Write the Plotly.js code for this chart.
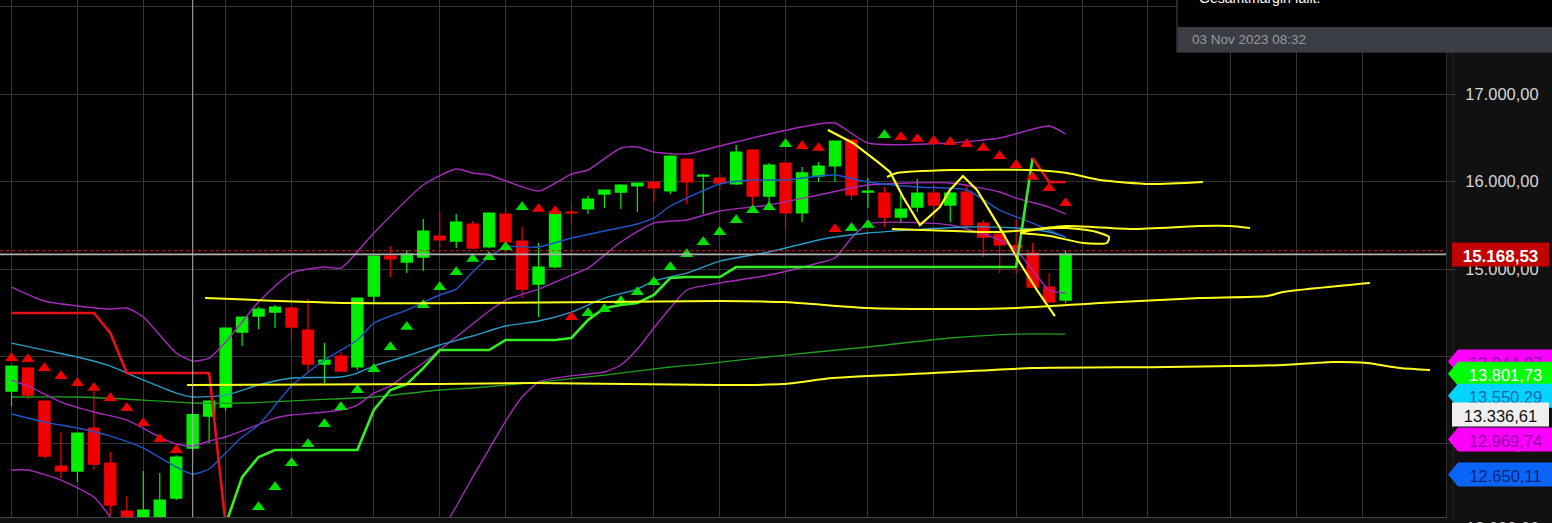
<!DOCTYPE html>
<html>
<head>
<meta charset="utf-8">
<script src="https://cdn.plot.ly/plotly-3.0.1.min.js"></script>
<style>
html,body{margin:0;padding:0;background:#111111;overflow:hidden;}
#chart{width:1552px;height:523px;}
</style>
</head>
<body>
<div id="chart"></div>
<script>
// ---------- candle data (weekly bars, index = bar number) ----------
const barIndex = [0,1,2,3,4,5,6,7,8,9,10,11,12,13,14,15,16,17,18,19,20,21,22,23,24,25,26,27,28,29,30,31,32,33,34,35,36,37,38,39,40,41,42,43,44,45,46,47,48,49,50,51,52,53,54,55,56,57,58,59,60,61,62,63,64];
const openP  = [13605,13868,13491,12747,12690,13182,12781,12232,12120,12120,12381,12953,13319,13422,14280,14463,14509,14555,14303,13914,14006,13880,14692,15150,15081,15138,15379,15321,15516,15253,15630,15321,14829,15024,15653,15688,15859,15882,15951,15997,15894,16260,16065,16042,15974,16363,15836,16214,15642,16065,16180,16477,15882,15871,15596,15710,15871,15733,15882,15527,15402,15270,15184,14795,14646];
const highP  = [13900,13880,13500,13136,13130,13674,12907,12404,12690,12667,12870,13345,13500,14330,14460,14566,14589,14560,14658,14154,14051,14675,15155,15264,15218,15573,15653,15630,15550,15650,15699,15482,15299,15676,15745,15836,15910,15970,15990,16000,16300,16265,16090,16100,16420,16370,16214,16220,16168,16225,16470,16480,16042,15939,15882,16031,15962,15880,15962,15562,15505,15562,15299,14955,15218];
const lowP   = [13434,13514,12839,12610,12564,12701,12186,12100,12100,12100,12358,12930,13010,13376,14120,14315,14326,14189,13823,13697,13825,13845,14612,14910,14955,14978,15241,15241,15230,15240,15276,14669,14452,15010,15505,15630,15699,15688,15653,15768,15859,15745,15630,15905,15962,15722,15756,15470,15539,15997,15997,15791,15699,15482,15527,15653,15585,15539,15470,15138,14955,14955,14790,14612,14612];
const closeP = [13891,13559,12861,12690,13125,12770,12301,12120,12244,12358,12850,13336.61,13491,14326,14452,14543,14566,14337,13914,13960,13834,14669,15150,15116,15173,15436,15333,15539,15241,15642,15310,14772,15024,15653,15642,15802,15905,15962,15985,15928,16294,15997,16077,15985,16340,15836,16191,15642,16100,16180,16466,15848,15894,15596,15688,15871,15733,15871,15505,15367,15276,15240,14795,14624,15173];

// ---------- Bollinger bands ----------
const bbUpperX = [0,2,4,6,7,8,9,10,11,12,13,14,15,17,19,20,22,25,27,28,29,32,34,35,37,38,39,41,43,46,49,50,52,57,60,63,64];
const bbUpperY = [14795,14635,14578,14543,14555,14452,14246,14040,13948,13983,14166,14395,14623,14955,15024,15012,15413,15962,16145,16100,16077,15894,16088,16134,16386,16397,16340,16317,16408,16546,16660,16672,16443,16443,16500,16637,16546];
const bbMidX = [0,1,3,5,7,9,10,11,12,13,14,16,17,19,20,21,22,23,24,25,26,27,28,29,30,32,34,35,37,39,41,43,46,49,52,57,60,61,63,64];
const bbMidY = [13731,13663,13479,13365,13273,13079,12999,12976,13033,13079,13148,13296,13331,13365,13388,13445,13582,13662,13800,13926,14074,14223,14372,14521,14646,14772,14932,15012,15310,15527,15562,15665,15733,15848,15962,15985,15882,15813,15710,15630];
const bbLowX = [0,1,3,5,6,7,8,10,13,16,19,22,24,25,26,27,28,29,30,31,32,33,35,36,37,38,39,40,41,43,46,49,50,51,52,57,60,61,62,63,64];
const bbLowY = [12701,12701,12587,12392,12164,11900,11600,11100,10700,10500,10500,10800,11283,11626,11963,12284,12621,12941,13262,13537,13708,13754,13800,13823,13903,14086,14326,14555,14761,14841,14932,15070,15127,15356,15516,15505,15333,15218,14990,14761,14727];

// ---------- moving averages ----------
const maBlueX = [0,2,4,6,8,10,11,12,13,14,15,17,19,21,22,24,26,27,28,29,30,32,34,36,38,39,40,41,43,45,47,49,50,52,55,58,60,62,64];
const maBlueY = [13342,13250,13182,13090,12953,12736,12656,12713,12896,13079,13216,13662,13960,14189,14383,14532,14704,14772,14967,15138,15253,15253,15356,15436,15516,15585,15722,15813,15974,16020,16020,16065,16077,15997,15939,15905,15676,15527,15367];
const maCyanX = [0,2,4,6,8,10,11,13,15,17,20,21,22,24,26,28,30,32,34,36,38,39,41,43,46,49,50,52,58,61,63,64];
const maCyanY = [14154,14074,13994,13891,13731,13582,13537,13559,13674,13754,13765,13811,13891,14006,14132,14235,14349,14406,14509,14669,14772,14864,14955,15092,15196,15333,15367,15413,15482,15470,15424,15367];
const maGreenX = [0,4,8,11,14,18,22,26,28,32,36,40,42,47,52,57,61,64];
const maGreenY = [13537,13537,13502,13468,13468,13502,13537,13617,13640,13708,13788,13880,13914,14017,14109,14212,14257,14257];

// ---------- supertrend ----------
const stRed1X = [0,1,2,3,4,5,6,7,8,9,10,11,12,13];
const stRed1Y = [14498,14498,14498,14498,14498,14498,14269,13811,13811,13811,13811,13811,13811,12080];
const stGreenX = [13,14,15,16,17,18,19,20,21,22,23,24,25,26,27,28,29,30,31,32,33,34,35,36,37,38,39,40,41,42,43,44,45,46,47,48,49,50,51,52,53,54,55,56,57,58,59,60,61,62];
const stGreenY = [12080,12621,12850,12930,12930,12930,12930,12930,12930,13388,13617,13685,13868,14074,14074,14074,14074,14189,14189,14189,14189,14212,14417,14555,14589,14612,14704,14898,14910,14910,14910,15024,15024,15024,15024,15024,15024,15024,15024,15024,15024,15024,15024,15024,15024,15024,15024,15024,15024,16271];
const stRed2X = [62,63,64];
const stRed2Y = [16271,15997,15997];

// ---------- parabolic SAR ----------
const sarRedX = [0,1,2,3,4,5,6,7,8,9,10,32,33,34,48,49,50,54,55,56,57,58,59,60,61,62,63,64];
const sarRedY = [13983,13971,13868,13777,13697,13640,13525,13411,13239,13056,12930,15688,15665,14452,16408,16386,15459,16511,16489,16466,16454,16431,16386,16294,16191,16054,15928,15756];
const sarGreenX = [15,16,17,18,19,20,21,22,23,24,25,26,27,28,29,30,31,35,36,37,38,39,40,41,42,43,44,45,46,47,51,52,53];
const sarGreenY = [12278,12507,12781,12999,13228,13422,13617,13857,14109,14338,14589,14795,14967,15116,15138,15253,15710,14498,14543,14635,14738,14852,15024,15173,15310,15424,15562,15676,15710,16431,15470,15505,16534];

// ---------- hand drawn yellow lines (bar position, price) ----------
const drawSupportX = [11.75,20.55,35.73,43.02,46.84,51.94,55.95,61.05,66.09,72.16,76.23,77.20,82.48];
const drawSupportY = [14669,14612,14623,14635,14623,14555,14543,14555,14612,14669,14692,14738,14841];
const drawLowX = [10.66,26.02,31.66,43.02,46.84,49.88,55.95,62.02,70.16,77.20,80.24,82.30,84.30,86.13];
const drawLowY = [13674,13685,13697,13674,13685,13754,13811,13868,13880,13903,13937,13926,13868,13845];
const drawTopX = [53.16,53.76,57.16,62.02,64.08,66.09,69.13,72.34];
const drawTopY = [16054,16100,16134,16134,16100,16019,15974,15997];
const drawMidX = [53.46,57.16,60.02,61.66,64.08,68.09,72.16,73.98,75.20];
const drawMidY = [15459,15436,15424,15447,15493,15459,15493,15493,15470];
const drawLoopX = [61.23,63.05,65.06,66.51,66.64,65.67,64.08,62.45,61.35];
const drawLoopY = [15413,15379,15299,15299,15367,15436,15470,15459,15424];
const drawZigX = [49.57,51.09,52.61,53.34,54.13,55.16,56.37,56.98,57.77,58.62,59.84,61.23,62.26,63.35];
const drawZigY = [16592,16443,16225,16111,15825,15505,15710,15905,16065,15905,15527,15070,14761,14463];

// ---------- axis ----------
const gridBars = [0,4,8,13,17,22,26,30,34,39,43,47,52,56,61,65,69,74,78,82];
const priceTicks = [12000,13000,14000,15000,16000,17000,18000];
const yRange = [12164,18079];
const crossBar = 11;
const crossPrice = 15168.53;
const lastPrice = 15210;

// ---------- price tags on the axis ----------
const tagValues = [13944.07,13801.73,13550.29,13336.61,12969.74,12650.11];
const tagFill   = ['#ff00ff','#00ff00','#00d4ff','#efefef','#ff00ff','#0a64f5'];
const tagText   = ['#9000a8','#ffffff','#1565b0','#111111','#9000a8','#06257a'];
const tagArrow  = [true,true,true,false,true,true];
const tagShiftPx = [0,0,0,0,-7,0];

const tooltipTitle = 'Gesamtmargin fällt.';
const tooltipDate = '03 Nov 2023 08:32';

// ================= build =================
const PLOT_W = 1446, PLOT_H = 517;
const pxX = p => p / PLOT_W;
const pxY = p => 1 - p / PLOT_H;
const perPx = (yRange[1]-yRange[0]) / PLOT_H;
function fmt(v){
  const s = v.toFixed(2).split('.');
  return s[0].replace(/\B(?=(\d{3})+(?!\d))/g,'.') + ',' + s[1];
}

const MAG = '#a52bbb';
function line(x,y,color,width,shape){
  return {type:'scatter',mode:'lines',x:x,y:y,line:{color:color,width:width,shape:shape||'linear',smoothing:0.6},hoverinfo:'skip'};
}
const YEL = '#ffff1e';
const traces = [
  line(maGreenX,maGreenY,'#1f9e1f',1.3,'spline'),
  line(bbUpperX,bbUpperY,MAG,1.4,'spline'),
  line(bbMidX,bbMidY,MAG,1.4,'spline'),
  line(bbLowX,bbLowY,MAG,1.4,'spline'),
  line(maCyanX,maCyanY,'#2a9cc6',1.4,'spline'),
  line(maBlueX,maBlueY,'#1f55c8',1.4,'spline'),
  {type:'candlestick',x:barIndex,open:openP,high:highP,low:lowP,close:closeP,
   increasing:{line:{color:'#00f000',width:1.2},fillcolor:'#00f000'},
   decreasing:{line:{color:'#f00000',width:1.2},fillcolor:'#f00000'},
   whiskerwidth:0,hoverinfo:'skip'},
  line(stRed1X,stRed1Y,'#e8101a',2.6),
  line(stGreenX,stGreenY,'#33ee22',2.6),
  line(stRed2X,stRed2Y,'#e8101a',2.6),
  {type:'scatter',mode:'markers',x:sarRedX,y:sarRedY,marker:{symbol:'triangle-up',size:11.5,color:'#f00000'},hoverinfo:'skip'},
  {type:'scatter',mode:'markers',x:sarGreenX,y:sarGreenY,marker:{symbol:'triangle-up',size:11.5,color:'#00e000'},hoverinfo:'skip'},
  line(drawSupportX,drawSupportY,YEL,2,'spline'),
  line(drawLowX,drawLowY,YEL,2,'spline'),
  line(drawTopX,drawTopY,YEL,2,'spline'),
  line(drawMidX,drawMidY,YEL,2,'spline'),
  line(drawLoopX,drawLoopY,YEL,2,'spline'),
  line(drawZigX,drawZigY,YEL,2.2)
];

const shapes = [
  {type:'line',xref:'x',yref:'paper',x0:crossBar,x1:crossBar,y0:0,y1:1,line:{color:'#b4b4b4',width:1},layer:'above'},
  {type:'line',xref:'paper',yref:'y',x0:0,x1:1,y0:lastPrice,y1:lastPrice,line:{color:'#e02424',width:1,dash:'3px,3px'},layer:'above'},
  {type:'line',xref:'paper',yref:'y',x0:0,x1:1,y0:crossPrice,y1:crossPrice,line:{color:'#b0b0b0',width:1.8},layer:'above'},
  {type:'line',xref:'paper',yref:'paper',x0:pxX(1453),x1:pxX(1453),y0:0,y1:1,line:{color:'#262626',width:1},layer:'above'}
];
const h = 12 * perPx;
tagValues.forEach((val,i)=>{
  const v = val - tagShiftPx[i]*perPx;
  const tip = pxX(1448), x1 = pxX(tagArrow[i]?1458:1452), xe = pxX(tagArrow[i]?1563:1549);
  const path = tagArrow[i]
    ? `M ${tip},${v} L ${x1},${v+h} L ${xe},${v+h} L ${xe},${v-h} L ${x1},${v-h} Z`
    : `M ${x1},${v+h} L ${xe},${v+h} L ${xe},${v-h} L ${x1},${v-h} Z`;
  shapes.push({type:'path',xref:'paper',yref:'y',path:path,fillcolor:tagFill[i],line:{width:0},layer:'above',
    label:{text:fmt(val),textposition:'middle center',font:{family:'Liberation Sans, Arial',size:16.5,color:tagText[i]}}});
});
// current crosshair price tag
{
  const v = crossPrice, x1 = pxX(1452), xe = pxX(1549);
  shapes.push({type:'path',xref:'paper',yref:'y',
    path:`M ${x1},${v+h} L ${xe},${v+h} L ${xe},${v-h} L ${x1},${v-h} Z`,
    fillcolor:'#c20000',line:{width:0},layer:'above',
    label:{text:'<b>'+fmt(v)+'</b>',textposition:'middle center',font:{family:'Liberation Sans, Arial',size:17,color:'#ffffff'}}});
}
// tooltip box
shapes.push({type:'rect',xref:'paper',yref:'paper',x0:pxX(1177),x1:pxX(1570),y0:pxY(52),y1:pxY(-5),fillcolor:'#000000',line:{color:'#4a4a4a',width:1},layer:'above'});
shapes.push({type:'rect',xref:'paper',yref:'paper',x0:pxX(1177.5),x1:pxX(1570),y0:pxY(52),y1:pxY(27),fillcolor:'#3a3d43',line:{width:0},layer:'above'});

const annotations = [
  {xref:'paper',yref:'paper',x:pxX(1197),y:pxY(-2),xanchor:'left',yanchor:'middle',showarrow:false,
   text:tooltipTitle,font:{family:'Liberation Sans, Arial',size:14,color:'#ffffff'}},
  {xref:'paper',yref:'paper',x:pxX(1190),y:pxY(39.5),xanchor:'left',yanchor:'middle',showarrow:false,
   text:tooltipDate,font:{family:'Liberation Sans, Arial',size:13.5,color:'#9a9a9a'}},
  {xref:'paper',yref:'paper',x:pxX(1464),y:pxY(528),xanchor:'left',yanchor:'middle',showarrow:false,
   text:fmt(priceTicks[0]),font:{family:'Liberation Sans, Arial',size:16.5,color:'#d6d6d6'}}
];

const layout = {
  width:1552,height:523,
  margin:{l:0,r:106,t:0,b:6,pad:0},
  paper_bgcolor:'#111111',plot_bgcolor:'#000000',
  showlegend:false,hovermode:false,
  separators:',.',
  boxgap:0.15,boxgroupgap:0.2,
  xaxis:{range:[-0.7,87.1],tickvals:gridBars,showticklabels:false,ticks:'',showgrid:true,gridcolor:'#363636',gridwidth:1,
         zeroline:false,showline:true,linecolor:'#444444',rangeslider:{visible:false},fixedrange:true},
  yaxis:{side:'right',range:yRange,tickvals:priceTicks,tickformat:',.2f',showgrid:true,gridcolor:'#363636',gridwidth:1,
         zeroline:false,ticks:'outside',ticklen:9,tickcolor:'#363636',ticklabelstandoff:6,
         tickfont:{family:'Liberation Sans, Arial',size:16.5,color:'#d6d6d6'},showline:true,linecolor:'#2c2c2c',fixedrange:true},
  shapes:shapes,
  annotations:annotations
};

Plotly.newPlot('chart',traces,layout,{displayModeBar:false,staticPlot:true});
</script>
</body>
</html>
